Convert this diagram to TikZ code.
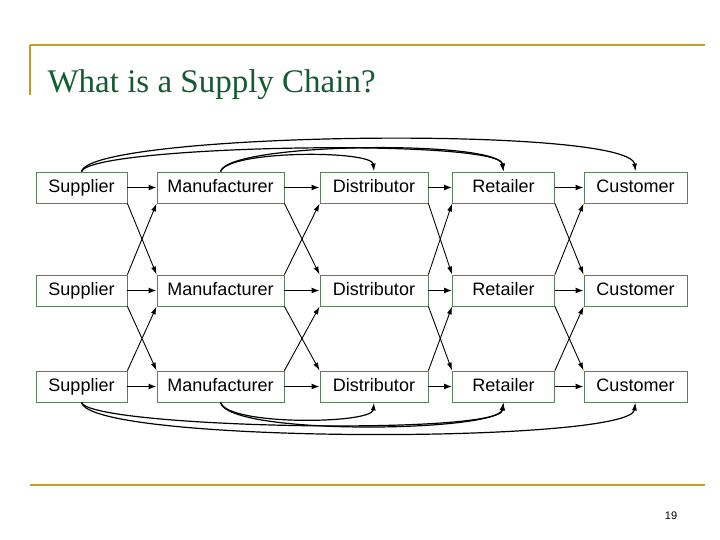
\documentclass[tikz,border=0pt]{standalone}
\usepackage{fontspec}
\setmainfont{Liberation Serif}
\newfontfamily\arial{Liberation Sans}
\usetikzlibrary{arrows.meta}
\definecolor{gold}{RGB}{190,160,40}
\definecolor{ttl}{RGB}{20,90,50}
\definecolor{bx}{RGB}{90,130,90}
\begin{document}
\begin{tikzpicture}[x=1pt,y=-1pt,
  box/.style={draw=bx,line width=0.8pt,minimum height=31pt,inner sep=0pt,text height=13pt,text depth=3.5pt,font=\arial\fontsize{18}{20}\selectfont},
  ar/.style={-{Latex[length=8pt,width=6pt]},line width=1.3pt},
  cr/.style={-{Latex[length=8pt,width=5pt]},line width=0.9pt},
  arc/.style={-{Latex[length=8pt,width=5pt]},line width=1.2pt}]
\useasboundingbox (0,0) rectangle (720,540);
\draw[gold,line width=1.5pt] (30,45) -- (705,45);
\draw[gold,line width=1.5pt] (30,45) -- (30,95);
\draw[gold,line width=1.5pt] (30,485) -- (705,485);
\node[anchor=west,text=ttl,font=\fontsize{33}{36}\selectfont] (t) at (44,85) {What is a Supply Chain?};
\node[font=\arial\fontsize{11}{12}\selectfont] (pg) at (671,516) {19};
\foreach \r/\y in {1/187.5,2/290.5,3/386.5}{
  \node[box,minimum width=91pt] (s\r) at (81.5,\y) {Supplier};
  \node[box,minimum width=127pt] (m\r) at (220.5,\y) {Manufacturer};
  \node[box,minimum width=108pt] (d\r) at (374,\y) {Distributor};
  \node[box,minimum width=102pt] (r\r) at (503.5,\y) {Retailer};
  \node[box,minimum width=103pt] (c\r) at (635.5,\y) {Customer};
  \draw[ar] (s\r) -- (m\r);
  \draw[ar] (m\r) -- (d\r);
  \draw[ar] (d\r) -- (r\r);
  \draw[ar] (r\r) -- (c\r);
}
\foreach \a/\b in {s/m,m/d,d/r,r/c}{
  \foreach \u/\l in {1/2,2/3}{
    \draw[cr] (\a\u.south east) -- (\b\l.north west);
    \draw[cr] (\a\l.north east) -- (\b\u.south west);
  }
}
% top arcs
\draw[arc] (s1.north) .. controls (90,145) and (500,138) .. (r1.north);
\draw[arc] (s1.north) .. controls (90,132) and (630,125) .. (c1.north);
\draw[arc] (m1.north) .. controls (228,142) and (498,140) .. (r1.north);
\draw[arc] (m1.north) .. controls (228,150) and (372,150) .. (d1.north);
% bottom arcs
\draw[arc] (s3.south) .. controls (90,428) and (500,436) .. (r3.south);
\draw[arc] (s3.south) .. controls (90,444) and (630,444) .. (c3.south);
\draw[arc] (m3.south) .. controls (228,436) and (498,432) .. (r3.south);
\draw[arc] (m3.south) .. controls (228,426) and (372,424) .. (d3.south);
\end{tikzpicture}
\end{document}
